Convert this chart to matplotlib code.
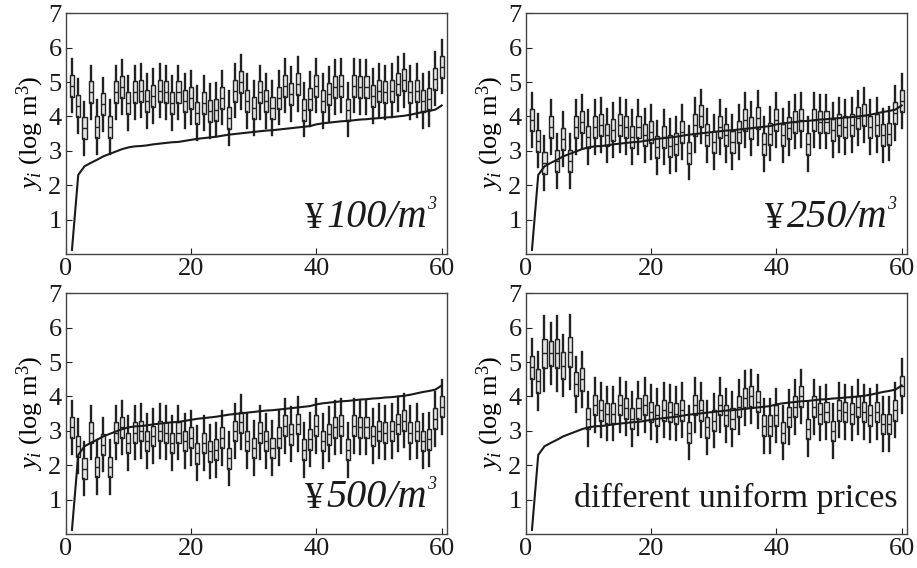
import numpy as np
import matplotlib
matplotlib.use("Agg")
import matplotlib.pyplot as plt

plt.rcParams['font.family'] = ['Liberation Serif', 'DejaVu Serif']
plt.rcParams['mathtext.fontset'] = 'custom'
plt.rcParams['mathtext.rm'] = 'Liberation Serif'
plt.rcParams['mathtext.it'] = 'Liberation Serif:italic'

# the 60 positions on the x axis
idx = np.arange(1, 61)

# sorted reference curve (same in every panel)
ref_line = [0.12, 2.30, 2.55, 2.65, 2.74, 2.84, 2.91, 2.98, 3.05, 3.10,
            3.13, 3.14, 3.16, 3.19, 3.21, 3.23, 3.25, 3.26, 3.29, 3.32,
            3.35, 3.37, 3.39, 3.41, 3.44, 3.47, 3.49, 3.51, 3.53, 3.55,
            3.57, 3.59, 3.60, 3.62, 3.64, 3.66, 3.68, 3.70, 3.72, 3.77,
            3.80, 3.82, 3.84, 3.86, 3.87, 3.89, 3.91, 3.92, 3.94, 3.95,
            3.97, 3.98, 4.00, 4.02, 4.05, 4.09, 4.13, 4.16, 4.20, 4.32]

# box medians for each panel
med_100 = [4.90, 4.30, 3.65, 4.70, 3.70, 4.35, 3.70, 4.70, 4.85, 4.40,
           4.70, 4.75, 4.45, 4.60, 4.75, 4.70, 4.40, 4.70, 4.45, 4.55,
           4.10, 4.40, 4.15, 4.20, 4.55, 3.95, 4.75, 5.00, 4.45, 4.25,
           4.70, 4.45, 4.25, 4.55, 4.90, 4.65, 4.95, 4.20, 4.50, 4.90,
           4.45, 4.65, 4.85, 4.90, 4.20, 4.90, 4.85, 4.85, 4.60, 4.75,
           4.70, 4.75, 4.95, 5.05, 4.70, 4.75, 4.45, 4.50, 5.10, 5.45]
med_250 = [3.90, 3.30, 2.65, 3.70, 2.70, 3.35, 2.70, 3.70, 3.85, 3.40,
           3.70, 3.75, 3.45, 3.60, 3.75, 3.70, 3.40, 3.70, 3.45, 3.55,
           3.10, 3.40, 3.15, 3.20, 3.55, 2.95, 3.75, 4.00, 3.45, 3.25,
           3.70, 3.45, 3.25, 3.55, 3.90, 3.65, 3.95, 3.20, 3.50, 3.90,
           3.45, 3.65, 3.85, 3.90, 3.20, 3.90, 3.85, 3.85, 3.60, 3.75,
           3.70, 3.75, 3.95, 4.05, 3.70, 3.75, 3.45, 3.50, 4.10, 4.45]
med_500 = [3.10, 2.55, 1.90, 2.95, 1.95, 2.60, 1.95, 2.95, 3.10, 2.65,
           2.95, 3.00, 2.70, 2.85, 3.00, 2.95, 2.65, 2.95, 2.70, 2.80,
           2.35, 2.65, 2.40, 2.45, 2.80, 2.20, 3.00, 3.25, 2.70, 2.50,
           2.95, 2.70, 2.50, 2.80, 3.15, 2.90, 3.20, 2.45, 2.75, 3.15,
           2.70, 2.90, 3.10, 3.15, 2.45, 3.15, 3.10, 3.10, 2.85, 3.00,
           2.95, 3.00, 3.20, 3.30, 2.95, 3.00, 2.70, 2.75, 3.35, 3.70]
med_mix = [4.85, 4.45, 5.25, 5.25, 5.25, 4.90, 5.30, 4.35, 4.50, 3.35,
           3.75, 3.60, 3.50, 3.50, 3.75, 3.65, 3.35, 3.65, 3.75, 3.55,
           3.45, 3.60, 3.55, 3.50, 3.60, 2.95, 3.75, 3.60, 3.10, 3.30,
           3.75, 3.45, 3.35, 3.70, 3.95, 4.00, 3.85, 3.15, 3.15, 3.45,
           2.95, 3.40, 3.70, 4.00, 3.05, 3.70, 3.50, 3.55, 3.00, 3.60,
           3.55, 3.50, 3.70, 3.55, 3.45, 3.55, 3.20, 3.20, 3.60, 4.30]

# half box height and half whisker length read for each panel
box_half_fixed = [0.32, 0.32, 0.30]
whisker_half_fixed = [0.78, 0.78, 0.78]
box_half_mix = [0.33, 0.35, 0.43, 0.35, 0.43, 0.38, 0.43, 0.35, 0.33] + [0.30] * 51
whisker_half_mix = [0.83, 0.85, 1.08, 0.90, 1.08, 0.90, 1.08, 0.80, 0.80] + [0.78] * 51

prices = ['100', '250', '500']
mix_label = 'different uniform prices'

W, H = 917, 568
fig = plt.figure(figsize=(W / 100, H / 100), dpi=100)
ax_w = (446.7 - 65.7) / W
ax_h = (254 - 13.3) / H
lefts = [65.7 / W, 525.7 / W]
bottoms = [1 - 254 / H, 1 - 534 / H]

panels = [(med_100, box_half_fixed[0], whisker_half_fixed[0]),
          (med_250, box_half_fixed[1], whisker_half_fixed[1]),
          (med_500, box_half_fixed[2], whisker_half_fixed[2]),
          (med_mix, box_half_mix, whisker_half_mix)]

edge = '#222222'
txt = '#1a1a1a'
for k, (med, bh, wh) in enumerate(panels):
    ax = fig.add_axes([lefts[k % 2], bottoms[k // 2], ax_w, ax_h])
    med = np.array(med)
    bh = np.broadcast_to(np.array(bh), med.shape)
    wh = np.broadcast_to(np.array(wh), med.shape)
    stats = []
    for m, b, w in zip(med, bh, wh):
        stats.append(dict(med=m, q1=m - b, q3=m + b, whislo=m - w, whishi=m + w, fliers=[]))
    ax.bxp(stats, positions=idx, widths=0.65, showcaps=False, showfliers=False,
           patch_artist=True,
           boxprops=dict(facecolor='#e4e4e4', edgecolor=edge, linewidth=1.0),
           medianprops=dict(color=edge, linewidth=1.0),
           whiskerprops=dict(color=edge, linewidth=1.7),
           manage_ticks=False, zorder=2)
    ax.plot(idx, ref_line, color=txt, linewidth=1.5, zorder=3)

    ax.set_xlim(0, 60.8)
    ax.set_ylim(0, 7)
    ax.set_xticks([0, 20, 40, 60])
    ax.set_yticks([1, 2, 3, 4, 5, 6, 7])
    ax.tick_params(direction='in', length=4, labelsize=19, color=edge, labelcolor=txt, pad=3)
    for s in ax.spines.values():
        s.set_color('#444444')
        s.set_linewidth(1.0)
    ax.set_ylabel(r'$y_i$ (log m$^3$)', fontsize=19, labelpad=2)

    if k < 3:
        # yen sign upright, price per cubic metre in italic with a small superscript
        t1 = ax.text(0.628, 0.107, '¥', transform=ax.transAxes, ha='left', va='baseline',
                     fontsize=27, color=txt)
        t2 = ax.annotate(prices[k] + '/m', xy=(1.0, 0.0), xycoords=t1, ha='left', va='bottom',
                         xytext=(2, 0), textcoords='offset points',
                         fontsize=29, fontstyle='italic', color=txt)
        ax.annotate('3', xy=(1.0, 0.64), xycoords=t2, ha='left', va='bottom',
                    xytext=(0, 0), textcoords='offset points',
                    fontsize=13, fontstyle='italic', color=txt)
    else:
        ax.text(0.977, 0.113, mix_label, transform=ax.transAxes, ha='right', va='baseline',
                fontsize=24.5, color=txt)

fig.savefig('out.png', dpi=100)
